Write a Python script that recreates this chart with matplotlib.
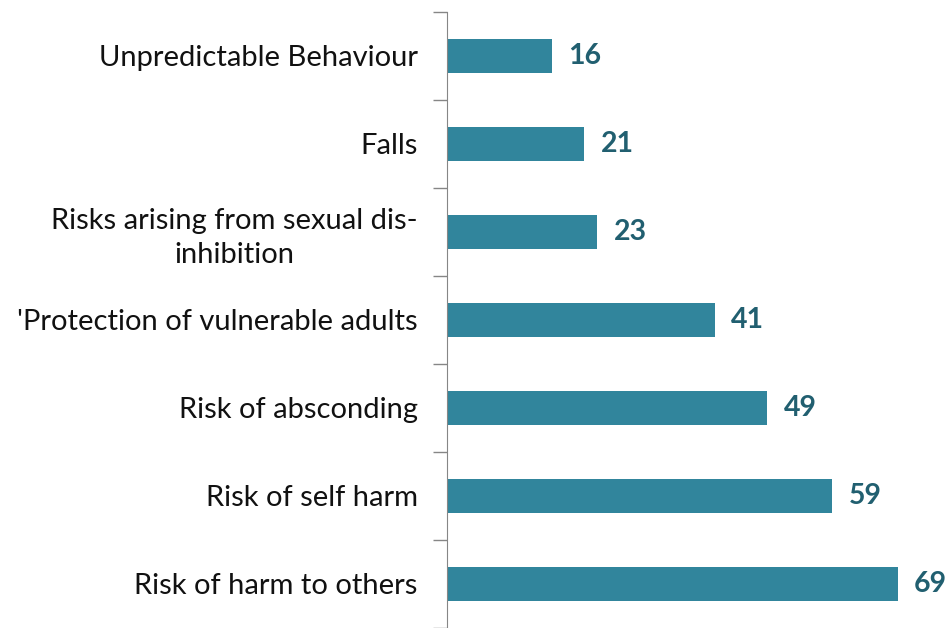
import numpy as np
import matplotlib.pyplot as plt

categories = ["Unpredictable Behaviour", "Falls",
              "Risks arising from sexual dis-\ninhibition",
              "'Protection of vulnerable adults", "Risk of absconding",
              "Risk of self harm", "Risk of harm to others"]
values = [16, 21, 23, 41, 49, 59, 69]

bar_color = '#31859C'
label_color = '#215F70'

plt.rcParams['font.family'] = ['Lato', 'DejaVu Sans']

fig = plt.figure(figsize=(9.5, 6.28), dpi=100)
ax = fig.add_axes([447 / 950, 0, 1 - 447 / 950, 1 - 11.6 / 628])

y = np.arange(len(categories))
ax.barh(y, values, height=0.385, color=bar_color)

for yi, v in zip(y, values):
    ax.text(v + 2.5, yi, str(v), va='center', ha='left', fontsize=20.5,
            fontweight='bold', color=label_color)

ax.set_xlim(0, 77)
ax.set_ylim(len(categories) - 1 + 0.44, -0.5)

ax.set_yticks(y)
ax.set_yticklabels(categories, fontsize=21, color='#111111',
                   multialignment='center', linespacing=1.35)
ax.tick_params(axis='y', which='major', length=0, pad=21)
ax.set_yticks(np.arange(-0.5, len(categories), 1), minor=True)
ax.tick_params(axis='y', which='minor', length=10, color='#868686', width=1)

ax.set_xticks([])
for s in ['top', 'right', 'bottom']:
    ax.spines[s].set_visible(False)
ax.spines['left'].set_color('#868686')

fig.savefig('out.png', dpi=100)
